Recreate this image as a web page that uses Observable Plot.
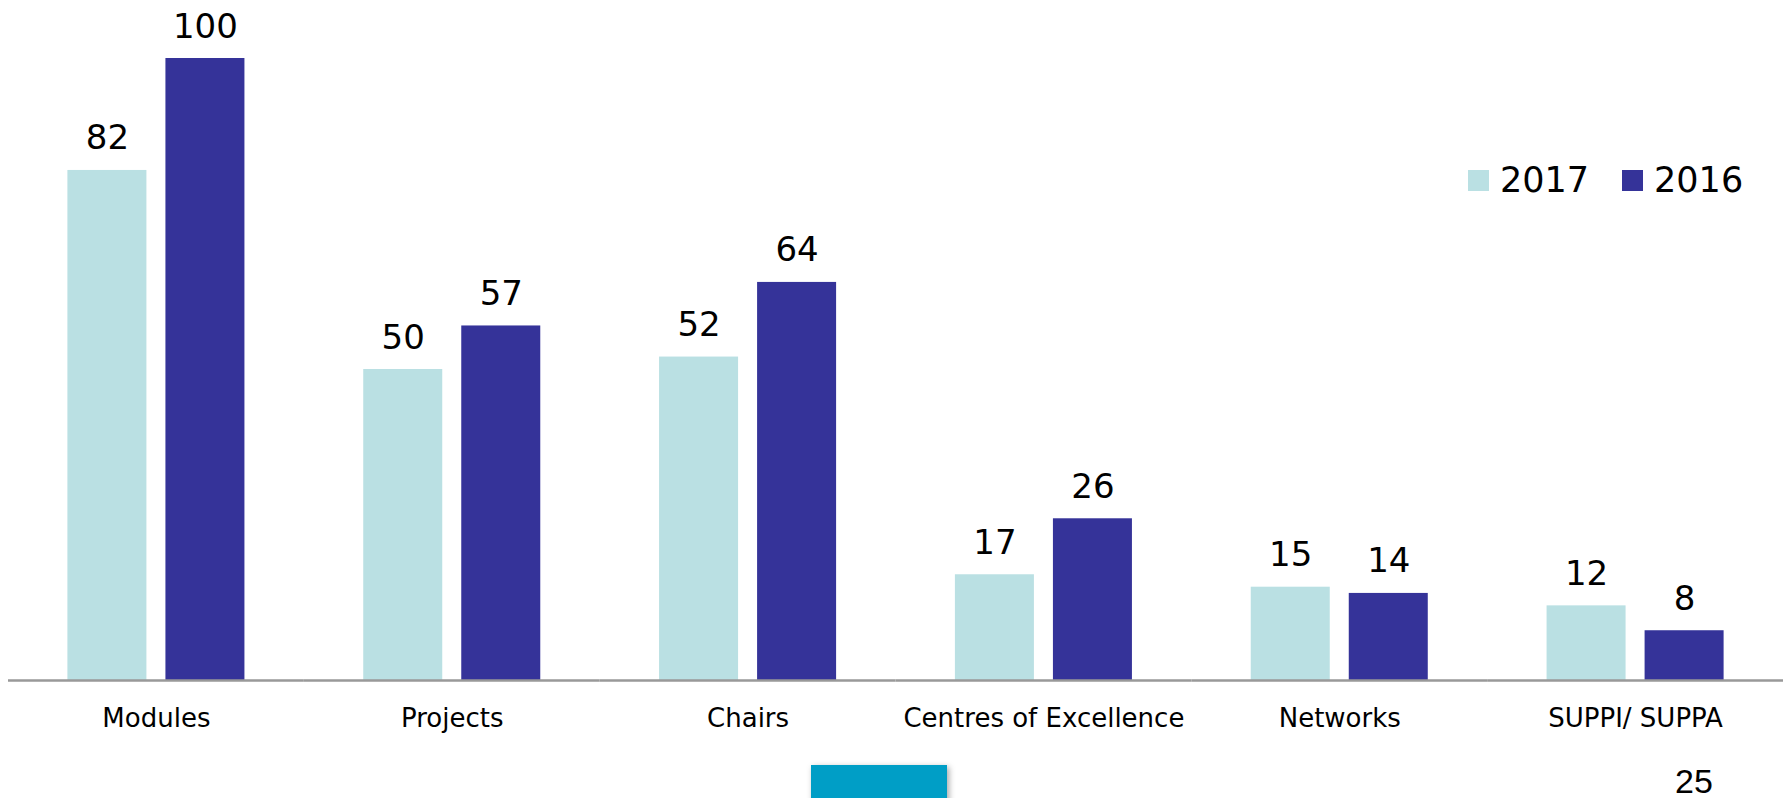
<!DOCTYPE html>
<html>
<head>
<meta charset="utf-8">
<script src="https://cdn.jsdelivr.net/npm/d3@7"></script>
<script src="https://cdn.jsdelivr.net/npm/@observablehq/plot@0.6"></script>
<style>
  html, body { margin: 0; padding: 0; background: #fff; }
  body { width: 1783px; height: 798px; position: relative; overflow: hidden; }
  #chart { position: absolute; left: 0; top: 0; }
  #legend { position: absolute; left: 1468px; top: 160px; display: flex; align-items: center; height: 40px;
            font-family: "DejaVu Sans", Verdana, sans-serif; font-size: 35px; color: #000; }
  #legend .item { display: flex; align-items: center; margin-right: 33px; }
  #legend .sw { width: 21px; height: 21px; margin-right: 11px; }
  #tab { position: absolute; left: 811px; top: 765px; width: 136px; height: 40px; background: #009EC6;
         box-shadow: 2px 2px 6px rgba(0,0,0,0.35); }
  #page { position: absolute; left: 1675px; top: 761px; font-family: "Liberation Sans", Arial, sans-serif;
          font-size: 34px; line-height: 40px; color: #000; }
</style>
</head>
<body>
<div id="chart"></div>
<div id="legend"></div>
<div id="tab"></div>
<div id="page">25</div>
<script>
const categories = ["Modules", "Projects", "Chairs", "Centres of Excellence", "Networks", "SUPPI/ SUPPA"];
const years = ["2017", "2016"];
const values2017 = [82, 50, 52, 17, 15, 12];
const values2016 = [100, 57, 64, 26, 14, 8];
const colors = ["#BAE0E3", "#353399"];

const data = [];
categories.forEach((c, i) => {
  data.push({cat: c, year: "2017", value: values2017[i]});
  data.push({cat: c, year: "2016", value: values2016[i]});
});

const chart = Plot.plot({
  width: 1783,
  height: 798,
  marginTop: 58,
  marginBottom: 118,
  marginLeft: 8,
  marginRight: 0,
  style: {fontFamily: "'DejaVu Sans', Verdana, sans-serif", fontSize: "26px", color: "#000", background: "transparent"},
  fx: {domain: categories, padding: 0, round: false, label: null, tickSize: 0, tickPadding: 28},
  x: {domain: years, paddingInner: 0.194, paddingOuter: 0.606, round: false, axis: null},
  y: {domain: [0, 100], axis: null},
  color: {domain: years, range: colors},
  marks: [
    Plot.barY(data, {fx: "cat", x: "year", y: "value", fill: "year"}),
    Plot.text(data, {fx: "cat", x: "year", y: "value", text: d => String(d.value), dy: -21, lineAnchor: "bottom", fontSize: 34, fill: "#000"}),
    Plot.ruleY([0], {stroke: "#999", strokeWidth: 2.5})
  ]
});
document.getElementById("chart").appendChild(chart);

const legend = document.getElementById("legend");
years.forEach((y, i) => {
  const item = document.createElement("div");
  item.className = "item";
  const sw = document.createElement("div");
  sw.className = "sw";
  sw.style.background = colors[i];
  const t = document.createElement("span");
  t.textContent = y;
  item.appendChild(sw);
  item.appendChild(t);
  legend.appendChild(item);
});
</script>
</body>
</html>
